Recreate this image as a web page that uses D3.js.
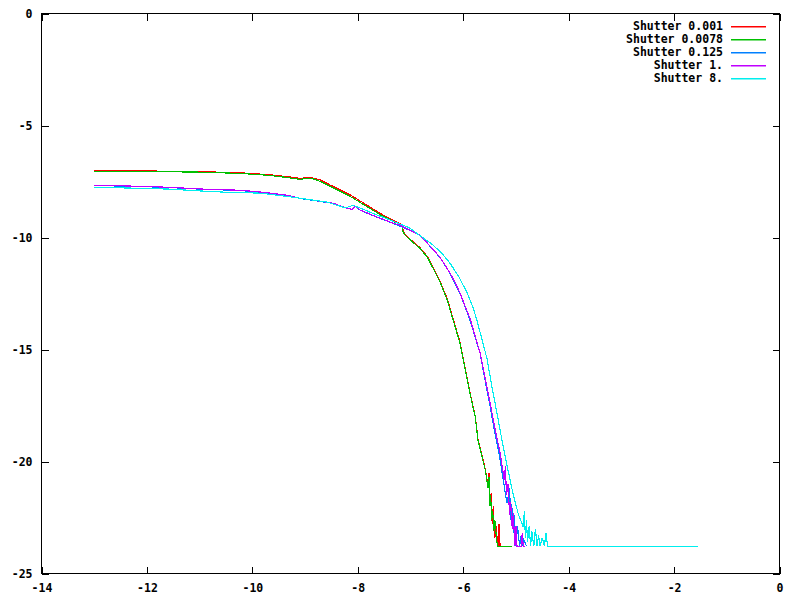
<!DOCTYPE html>
<html><head><meta charset="utf-8">
<script src="https://cdn.jsdelivr.net/npm/d3@7"></script>
<style>
body{margin:0;background:#fff}
text{font-family:"DejaVu Sans Mono",monospace;font-weight:bold;font-size:11.5px}
</style></head><body>
<svg id="c" width="800" height="600"></svg>
<script>
const xTicks = [-14,-12,-10,-8,-6,-4,-2,0];
const yTicks = [-25,-20,-15,-10,-5,0];
const seriesNames = ["Shutter 0.001","Shutter 0.0078","Shutter 0.125","Shutter 1.","Shutter 8."];
const seriesColors = ["#ff0000","#00c000","#0080ff","#c000ff","#00eeee"];

const redX = [-13.0,-12.70,-11.84,-11.80,-10.99,-10.23,-9.66,-9.28,-9.09,-8.95,-8.87,-8.71,-8.52,-8.14,-7.77,-7.52,-7.20,-7.16,-7.12,-7.08,-6.95,-6.82,-6.68,-6.57,-6.44,-6.30,-6.19,-6.06,-5.96,-5.89,-5.83,-5.77,-5.72,-5.64,-5.58,-5.53,-5.51,-5.49,-5.47,-5.45,-5.43,-5.40,-5.37,-5.35,-5.32,-5.32,-5.30];
const redY = [-7.02,-7.00,-7.00,-7.06,-7.06,-7.11,-7.20,-7.30,-7.36,-7.33,-7.33,-7.43,-7.66,-8.10,-8.64,-9.00,-9.38,-9.50,-9.80,-9.92,-10.19,-10.45,-10.85,-11.33,-11.95,-12.75,-13.64,-14.68,-15.88,-16.70,-17.36,-18.00,-19.00,-19.75,-20.35,-21.10,-20.50,-21.90,-21.40,-22.80,-22.00,-23.40,-22.90,-23.78,-23.78,-22.80,-23.78];

const greenX = [-13.0,-10.99,-10.23,-9.66,-9.28,-9.09,-9.00,-8.87,-8.71,-8.52,-8.14,-7.77,-7.52,-7.20,-7.16,-7.14,-7.10,-6.95,-6.82,-6.68,-6.57,-6.44,-6.30,-6.19,-6.06,-5.96,-5.89,-5.83,-5.77,-5.72,-5.64,-5.58,-5.53,-5.51,-5.50,-5.48,-5.46,-5.44,-5.42,-5.40,-5.37,-5.35,-5.07];
const greenY = [-7.04,-7.08,-7.14,-7.23,-7.34,-7.41,-7.36,-7.36,-7.50,-7.72,-8.17,-8.70,-9.06,-9.42,-9.51,-9.77,-9.91,-10.22,-10.49,-10.89,-11.38,-11.99,-12.81,-13.70,-14.73,-15.93,-16.74,-17.41,-18.03,-19.06,-19.82,-20.40,-21.16,-20.70,-22.00,-21.50,-22.60,-22.20,-23.10,-22.60,-23.40,-23.78,-23.78];

const blueX = [-13.0,-12.18,-11.56,-10.93,-10.23,-9.80,-9.34,-9.09,-8.85,-8.47,-8.20,-8.11,-8.05,-7.95,-7.63,-7.33,-7.01,-6.82,-6.68,-6.44,-6.25,-6.06,-5.87,-5.68,-5.56,-5.50,-5.41,-5.32,-5.24,-5.17,-5.12,-5.10,-5.08,-5.05,-5.03,-5.00,-4.97,-4.93,-4.90,-4.87,-4.85,-4.80];
const blueY = [-7.68,-7.72,-7.77,-7.85,-7.90,-7.99,-8.12,-8.26,-8.34,-8.48,-8.70,-8.75,-8.61,-8.79,-9.10,-9.37,-9.68,-9.91,-10.26,-10.89,-11.60,-12.50,-13.70,-15.17,-16.69,-17.41,-18.61,-19.64,-20.84,-21.87,-21.20,-22.60,-21.90,-23.20,-22.40,-23.78,-22.90,-23.78,-23.30,-23.78,-23.50,-23.78];

const magX = [-13.0,-12.18,-11.56,-10.93,-10.23,-9.80,-9.34,-9.09,-8.85,-8.47,-8.20,-8.11,-8.05,-7.95,-7.63,-7.33,-7.20,-7.01,-6.82,-6.68,-6.44,-6.25,-6.15,-6.06,-5.87,-5.68,-5.55,-5.49,-5.39,-5.30,-5.22,-5.20,-5.18,-5.15,-5.12,-5.10,-5.07,-5.05,-5.02,-5.00,-4.98,-4.90,-4.88,-4.86,-4.82];
const magY = [-7.67,-7.71,-7.76,-7.84,-7.89,-7.98,-8.11,-8.25,-8.33,-8.47,-8.69,-8.74,-8.60,-8.78,-9.09,-9.36,-9.45,-9.67,-9.90,-10.25,-10.88,-11.59,-12.02,-12.49,-13.62,-15.16,-16.68,-17.40,-18.60,-19.63,-20.83,-20.20,-21.50,-21.00,-22.40,-21.80,-23.00,-22.30,-23.78,-22.90,-23.78,-23.78,-23.20,-23.78,-23.78];

const cyanX = [-13.0,-12.18,-11.56,-10.93,-10.48,-9.85,-9.23,-8.58,-8.28,-8.20,-8.09,-7.95,-7.63,-7.33,-7.01,-6.87,-6.57,-6.40,-6.25,-6.09,-5.93,-5.82,-5.74,-5.55,-5.45,-5.36,-5.24,-5.15,-5.07,-4.96,-4.86,-4.84,-4.82,-4.80,-4.78,-4.75,-4.72,-4.70,-4.66,-4.63,-4.60,-4.57,-4.54,-4.50,-4.46,-4.43,-4.40,-1.54];
const cyanY = [-7.76,-7.80,-7.84,-7.93,-7.98,-8.02,-8.20,-8.42,-8.65,-8.65,-8.56,-8.69,-9.00,-9.27,-9.58,-9.83,-10.34,-10.72,-11.15,-11.72,-12.45,-13.08,-13.69,-15.40,-16.73,-17.84,-19.36,-20.39,-21.28,-22.31,-22.93,-22.20,-23.40,-22.60,-23.60,-22.90,-23.78,-23.10,-23.78,-23.00,-23.78,-23.30,-23.78,-23.40,-23.78,-23.20,-23.78,-23.78];

const allX = [redX, greenX, blueX, magX, cyanX];
const allY = [redY, greenY, blueY, magY, cyanY];

const svg = d3.select("#c");
const L = 41.5, R = 779.5, T = 13.5, B = 573.5;
const x = d3.scaleLinear().domain([-14,0]).range([L,R]);
const y = d3.scaleLinear().domain([-25,0]).range([B,T]);
const fmt = d => String(d);

const gB = svg.append("g").attr("transform",`translate(0,${B})`)
  .call(d3.axisBottom(x).tickValues(xTicks).tickSize(-7).tickPadding(10).tickFormat(fmt));
const gT = svg.append("g").attr("transform",`translate(0,${T})`)
  .call(d3.axisTop(x).tickValues(xTicks).tickSize(-7).tickFormat(""));
const gL = svg.append("g").attr("transform",`translate(${L},0)`)
  .call(d3.axisLeft(y).tickValues(yTicks).tickSize(-7).tickPadding(9).tickFormat(fmt));
const gR = svg.append("g").attr("transform",`translate(${R},0)`)
  .call(d3.axisRight(y).tickValues(yTicks).tickSize(-7).tickFormat(""));
[gB,gT,gL,gR].forEach(g=>{
  g.select(".domain").remove();
  g.selectAll("line").attr("stroke","#000").attr("shape-rendering","crispEdges");
  g.selectAll("text").attr("fill","#000").style("font-family","'DejaVu Sans Mono',monospace").style("font-weight","bold").style("font-size","11.5px");
});
gL.selectAll("text").attr("dy","0.35em");

const line = d3.line().x(d=>x(d[0])).y(d=>y(d[1]));
const plot = svg.append("g");
allX.forEach((xs,i)=>{
  const pts = xs.map((v,j)=>[v, allY[i][j]]);
  plot.append("path").attr("d",line(pts)).attr("fill","none")
    .attr("stroke",seriesColors[i]).attr("stroke-width",1.15)
    .attr("shape-rendering","crispEdges");
});

svg.append("rect").attr("x",L).attr("y",T).attr("width",R-L).attr("height",B-T)
  .attr("fill","none").attr("stroke","#000").attr("stroke-width",1).attr("shape-rendering","crispEdges");

const leg = svg.append("g");
seriesNames.forEach((n,i)=>{
  const yy = 26 + i*13;
  leg.append("text").attr("x",723).attr("y",yy).attr("dy","0.35em").attr("text-anchor","end").text(n);
  leg.append("rect").attr("x",731).attr("width",35).attr("y",yy).attr("height",1.5)
    .attr("fill",seriesColors[i]);
});
</script></body></html>
